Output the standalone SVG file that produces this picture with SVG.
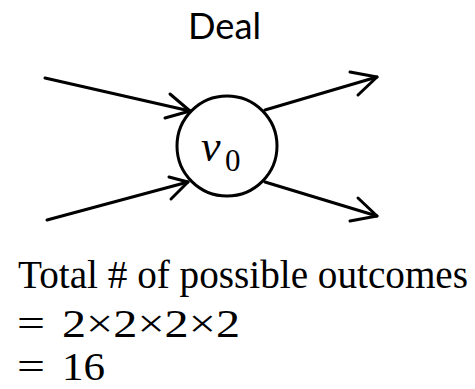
<svg xmlns="http://www.w3.org/2000/svg" width="475" height="389" viewBox="0 0 475 389">
<style>
.ln{fill:none;stroke:#000;stroke-width:3;stroke-linecap:round;stroke-linejoin:round}
.sans{font-family:Lato,"Open Sans","Liberation Sans",sans-serif;fill:#000}
.serif{font-family:"Liberation Serif","Times New Roman",serif;fill:#000}
</style>
<rect width="475" height="389" fill="#fff"/>
<text class="sans" x="188" y="39" font-size="36" textLength="73" lengthAdjust="spacingAndGlyphs">Deal</text>
<g id="connectors">
<path class="ln" d="M45,78 L190,111"/>
<path class="ln" d="M170,94 L190,111 L165,118"/>
<path class="ln" d="M47,220 L188,182"/>
<path class="ln" d="M169,177 L188,182 L171,199"/>
<path class="ln" d="M265,110 L377,77"/>
<path class="ln" d="M350,72 L377,77 L358,95"/>
<path class="ln" d="M265,182 L377,216"/>
<path class="ln" d="M358,198 L377,216 L350,221"/>
</g>
<g id="v0">
<circle class="ln" cx="227" cy="146" r="50" fill="#fff"/>
<text class="serif" x="201" y="161" font-size="44" font-style="italic">v</text>
<text class="serif" x="225" y="171" font-size="31">0</text>
</g>
<g id="formula">
<text class="serif" x="18" y="288" font-size="39" textLength="450" lengthAdjust="spacingAndGlyphs">Total # of possible outcomes</text>
<text class="serif" x="17" y="337" font-size="39" textLength="28" lengthAdjust="spacingAndGlyphs">=</text>
<text class="serif" x="62" y="337" font-size="39" textLength="178" lengthAdjust="spacingAndGlyphs">2×2×2×2</text>
<text class="serif" x="17" y="380" font-size="39" textLength="28" lengthAdjust="spacingAndGlyphs">=</text>
<text class="serif" x="62" y="380" font-size="39" textLength="43" lengthAdjust="spacingAndGlyphs">16</text>
</g>
</svg>
